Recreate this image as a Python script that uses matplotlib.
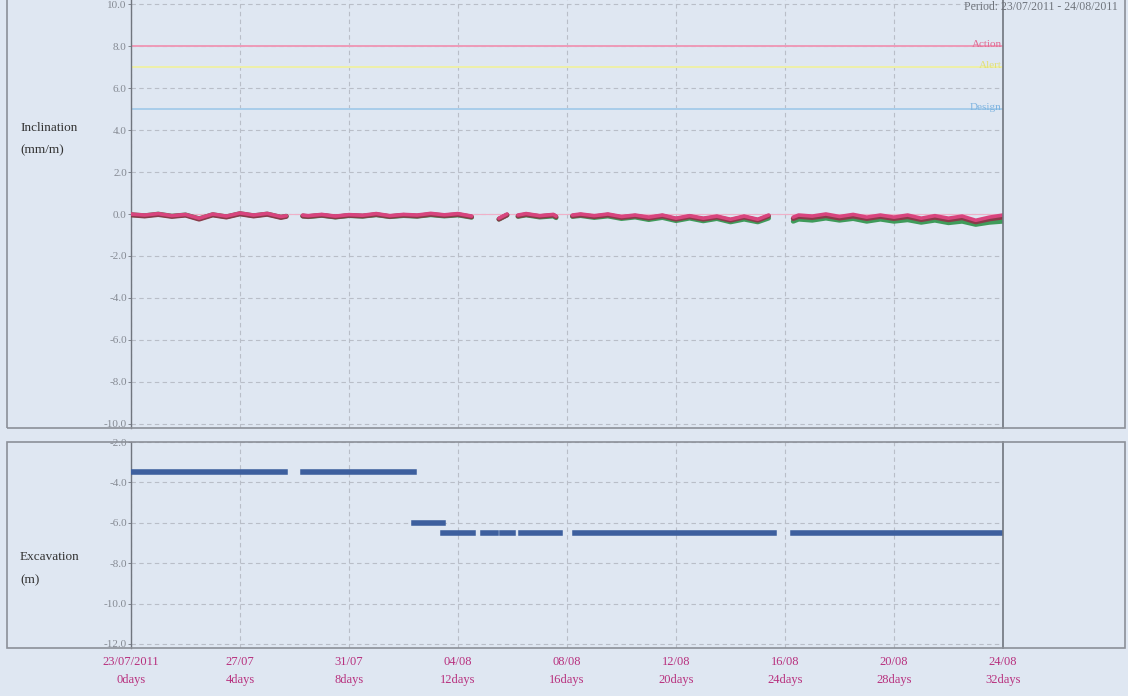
import numpy as np
import matplotlib
matplotlib.use("Agg")
import matplotlib.pyplot as plt
from matplotlib.patches import Rectangle

nan = np.nan

# ---------------- data ----------------
tick_days = [0, 4, 8, 12, 16, 20, 24, 28, 32]
tick_dates = ["23/07/2011", "27/07", "31/07", "04/08", "08/08", "12/08", "16/08", "20/08", "24/08"]
tick_rel = ["0days", "4days", "8days", "12days", "16days", "20days", "24days", "28days", "32days"]

incl_days = [0, 0.5, 1, 1.5, 2, 2.5, 3, 3.5, 4, 4.5, 5, 5.5, 5.7, nan,
             6.3, 6.5, 7, 7.5, 8, 8.5, 9, 9.5, 10, 10.5, 11, 11.5, 12, 12.5, nan,
             13.5, 13.8, nan,
             14.2, 14.5, 15, 15.5, 15.6, nan,
             16.2, 16.5, 17, 17.5, 18, 18.5, 19, 19.5, 20, 20.5, 21, 21.5, 22, 22.5, 23, 23.4, nan,
             24.3, 24.5, 25, 25.5, 26, 26.5, 27, 27.5, 28, 28.5, 29, 29.5, 30, 30.5, 31, 31.5, 32]

incl_pink = [0.0, -0.05, 0.02, -0.08, -0.02, -0.2, 0.0, -0.1, 0.05, -0.05, 0.03, -0.12, -0.08, nan,
             -0.05, -0.08, -0.02, -0.1, -0.03, -0.06, 0.02, -0.08, -0.02, -0.05, 0.03, -0.04, 0.02, -0.1, nan,
             -0.2, 0.0, nan,
             -0.05, 0.02, -0.08, -0.02, -0.1, nan,
             -0.05, 0.0, -0.08, 0.0, -0.12, -0.05, -0.15, -0.05, -0.2, -0.08, -0.2, -0.1, -0.25, -0.1, -0.25, -0.05, nan,
             -0.15, -0.05, -0.1, 0.0, -0.12, -0.02, -0.15, -0.05, -0.15, -0.05, -0.2, -0.08, -0.2, -0.1, -0.3, -0.15, -0.05]

incl_dark = [-0.05, -0.1, -0.03, -0.12, -0.06, -0.25, -0.05, -0.15, 0.0, -0.1, -0.02, -0.17, -0.12, nan,
             -0.1, -0.12, -0.06, -0.14, -0.07, -0.1, -0.03, -0.12, -0.06, -0.1, -0.02, -0.08, -0.03, -0.14, nan,
             -0.25, -0.05, nan,
             -0.1, -0.03, -0.12, -0.06, -0.14, nan,
             -0.1, -0.05, -0.13, -0.05, -0.17, -0.1, -0.2, -0.1, -0.25, -0.13, -0.25, -0.15, -0.3, -0.15, -0.3, -0.1, nan,
             -0.22, -0.12, -0.17, -0.08, -0.2, -0.1, -0.22, -0.12, -0.22, -0.13, -0.27, -0.16, -0.28, -0.18, -0.38, -0.24, -0.15]

incl_green = [-0.03, -0.08, 0.0, -0.1, -0.04, -0.22, -0.03, -0.13, 0.02, -0.08, 0.0, -0.15, -0.1, nan,
              -0.1, -0.13, -0.07, -0.15, -0.08, -0.11, -0.04, -0.13, -0.08, -0.11, -0.04, -0.1, -0.05, -0.16, nan,
              -0.25, -0.05, nan,
              -0.12, -0.05, -0.15, -0.1, -0.18, nan,
              -0.12, -0.08, -0.17, -0.1, -0.22, -0.15, -0.27, -0.17, -0.32, -0.2, -0.33, -0.22, -0.38, -0.25, -0.38, -0.2, nan,
              -0.35, -0.25, -0.3, -0.2, -0.3, -0.22, -0.35, -0.25, -0.35, -0.28, -0.4, -0.3, -0.42, -0.35, -0.5, -0.4, -0.35]

exc_days = [0, 5.65, nan, 6.3, 10.4, nan, 10.4, 11.45, nan, 11.45, 12.55, nan,
            12.9, 13.4, nan, 13.6, 14.0, nan, 14.3, 15.75, nan, 16.3, 23.6, nan, 24.3, 32]
exc_depth = [-3.5, -3.5, nan, -3.5, -3.5, nan, -6.0, -6.0, nan, -6.5, -6.5, nan,
             -6.5, -6.5, nan, -6.5, -6.5, nan, -6.5, -6.5, nan, -6.5, -6.5, nan, -6.5, -6.5]

limit_names = ["Action", "Alert", "Design"]
limit_values = [8.0, 7.0, 5.0]
limit_colors = ["#ee9ab8", "#eef0a8", "#a8cdea"]
limit_text_colors = ["#e06a92", "#e2e07a", "#7fb4e0"]

# ---------------- figure ----------------
W, H = 1128, 696
bg = "#dfe7f2"
fig = plt.figure(figsize=(W / 100, H / 100), dpi=100, facecolor=bg)
serif = ["Liberation Serif", "DejaVu Serif"]
plt.rcParams["font.family"] = serif

def fx(px):
    return px / W

def fy(py):
    return 1 - py / H

# outer boxes
for (y0, y1) in [(-5, 428), (442, 648)]:
    fig.patches.append(Rectangle((fx(7), fy(y1)), fx(1125) - fx(7), fy(y0) - fy(y1),
                                 transform=fig.transFigure, fill=False,
                                 edgecolor="#8c9098", linewidth=1.2, zorder=0))

ax1 = fig.add_axes([fx(131), fy(428), fx(1003) - fx(131), fy(0) - fy(428)])
ax2 = fig.add_axes([fx(131), fy(648), fx(1003) - fx(131), fy(442) - fy(648)])

grid_kw = dict(color="#b9bec8", linestyle=(0, (4, 3)), linewidth=0.8)
for ax in (ax1, ax2):
    ax.set_facecolor(bg)
    ax.set_xlim(0, 32)
    for s in ["top", "right"]:
        ax.spines[s].set_visible(False)
    ax.spines["bottom"].set_visible(False)
    ax.spines["left"].set_color("#70757e")
    ax.spines["left"].set_linewidth(1.0)
    ax.set_xticks(tick_days)
    ax.grid(True, **grid_kw)
    ax.tick_params(axis="y", length=2, width=0.6, colors="#70757e", labelsize=8, pad=1)
    ax.tick_params(axis="y", labelcolor="#858a93")
    ax.axvline(32, color="#70757e", linewidth=1.2, clip_on=False, zorder=6)
    ax.set_axisbelow(True)

# ---- top panel ----
ax1.set_ylim(-10.2, 10.2)
yt = [10, 8, 6, 4, 2, 0, -2, -4, -6, -8, -10]
ax1.set_yticks(yt)
ax1.set_yticklabels([f"{v:.1f}" for v in yt])
ax1.tick_params(axis="x", bottom=False, labelbottom=False)
for v, c in zip(limit_values, limit_colors):
    ax1.axhline(v, color=c, linewidth=1.4, zorder=2)
for name, v, c in zip(limit_names, limit_values, limit_text_colors):
    ax1.text(31.95, v + 0.08, name, ha="right", va="center", color=c, fontsize=8)
ax1.axhline(0, color="#f0b0c8", linewidth=0.8, zorder=2)

ax1.plot(incl_days, incl_green, color="#3f9b5a", linewidth=3.4, zorder=3, solid_capstyle="round")
ax1.plot(incl_days, incl_dark, color="#8a3a4a", linewidth=3.4, zorder=4, solid_capstyle="round")
ax1.plot(incl_days, incl_pink, color="#d8457e", linewidth=2.6, zorder=5, solid_capstyle="round")

# ---- bottom panel ----
ax2.set_ylim(-12.2, -2.0)
yt2 = [-2, -4, -6, -8, -10, -12]
ax2.set_yticks(yt2)
ax2.set_yticklabels([f"{v:.1f}" for v in yt2])
ax2.plot(exc_days, exc_depth, color="#3d5f9e", linewidth=4.0, zorder=3)
ax2.set_xticklabels([f"{d}\n{r}" for d, r in zip(tick_dates, tick_rel)])
ax2.tick_params(axis="x", length=0, pad=6, labelsize=9, labelcolor="#b8307e")
for lab in ax2.get_xticklabels():
    lab.set_linespacing(1.6)

# axis titles
fig.text(fx(20), fy(128), "Inclination", ha="left", va="center", fontsize=9.5, color="#333333")
fig.text(fx(20), fy(150), "(mm/m)", ha="left", va="center", fontsize=9.5, color="#333333")
fig.text(fx(20), fy(557), "Excavation", ha="left", va="center", fontsize=9.5, color="#333333")
fig.text(fx(20), fy(580), "(m)", ha="left", va="center", fontsize=9.5, color="#333333")

# header text
fig.text(fx(1118), fy(1), "Period: 23/07/2011 - 24/08/2011", ha="right", va="top",
         fontsize=8.5, color="#6f747c")

fig.savefig("out.png", dpi=100, facecolor=bg)
